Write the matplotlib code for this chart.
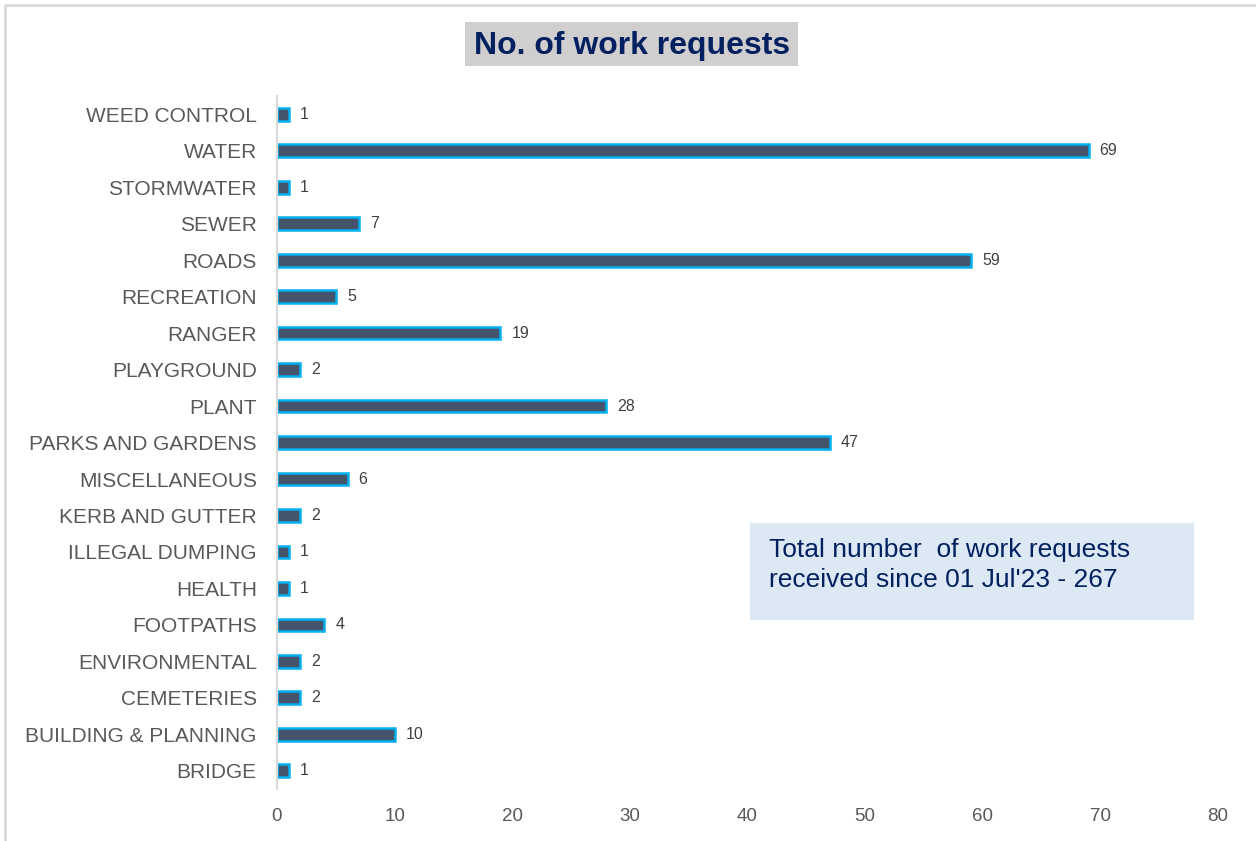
import matplotlib.pyplot as plt
from matplotlib.patches import Rectangle

# work request counts per category (bottom to top)
categories = ['BRIDGE', 'BUILDING & PLANNING', 'CEMETERIES', 'ENVIRONMENTAL',
              'FOOTPATHS', 'HEALTH', 'ILLEGAL DUMPING', 'KERB AND GUTTER',
              'MISCELLANEOUS', 'PARKS AND GARDENS', 'PLANT', 'PLAYGROUND',
              'RANGER', 'RECREATION', 'ROADS', 'SEWER', 'STORMWATER',
              'WATER', 'WEED CONTROL']
counts = [1, 10, 2, 2, 4, 1, 1, 2, 6, 47, 28, 2, 19, 5, 59, 7, 1, 69, 1]
x_ticks = [0, 10, 20, 30, 40, 50, 60, 70, 80]

title_text = 'No. of work requests'
note_text = "Total number  of work requests\nreceived since 01 Jul'23 - 267"

plt.rcParams['font.family'] = ['Liberation Sans', 'DejaVu Sans']

W, H = 1256, 841
fig = plt.figure(figsize=(W / 100, H / 100), dpi=100)
ax = fig.add_axes([0.2205, 0.0618, 0.7492, 0.824])

y = list(range(len(categories)))
ax.barh(y, counts, height=0.35, color='#44546a', edgecolor='#00b0f0', linewidth=1.8)

for yi, v in zip(y, counts):
    ax.text(v + 0.95, yi, str(v), va='center', ha='left', fontsize=11.5, color='#404040')

ax.set_xlim(0, 80)
ax.set_ylim(-0.5, len(categories) - 0.5)
ax.set_xticks(x_ticks)
ax.set_yticks(y)
ax.set_yticklabels(categories)
ax.tick_params(axis='y', length=0, pad=14.5, labelsize=15, labelcolor='#595959')
ax.tick_params(axis='x', length=0, pad=13.5, labelsize=13.5, labelcolor='#595959')
for side in ['top', 'right', 'bottom']:
    ax.spines[side].set_visible(False)
ax.spines['left'].set_color('#d9d9d9')
ax.spines['left'].set_linewidth(1.5)

# title on a grey band
fig.patches.append(Rectangle((465 / W, 1 - 66 / H), 333 / W, 44 / H,
                             transform=fig.transFigure, facecolor='#d0cece',
                             edgecolor='none', zorder=0))
fig.text(632 / W, 1 - 46 / H, title_text, ha='center', va='center', fontsize=23,
         fontweight='bold', color='#002060')

# summary note box
fig.patches.append(Rectangle((750 / W, 1 - 620 / H), 444 / W, 97 / H,
                             transform=fig.transFigure, facecolor='#dde8f5',
                             edgecolor='none', zorder=0))
fig.text(769 / W, 1 - 565 / H, note_text, ha='left', va='center',
         fontsize=19, color='#002060', linespacing=1.28)

# thin outer frame along the top and left edge
fig.add_artist(plt.Line2D([5 / W, 5 / W, 1], [0, 1 - 5 / H, 1 - 5 / H],
                          transform=fig.transFigure, color='#d9d9d9', linewidth=2))

fig.savefig('out.png', dpi=100)
